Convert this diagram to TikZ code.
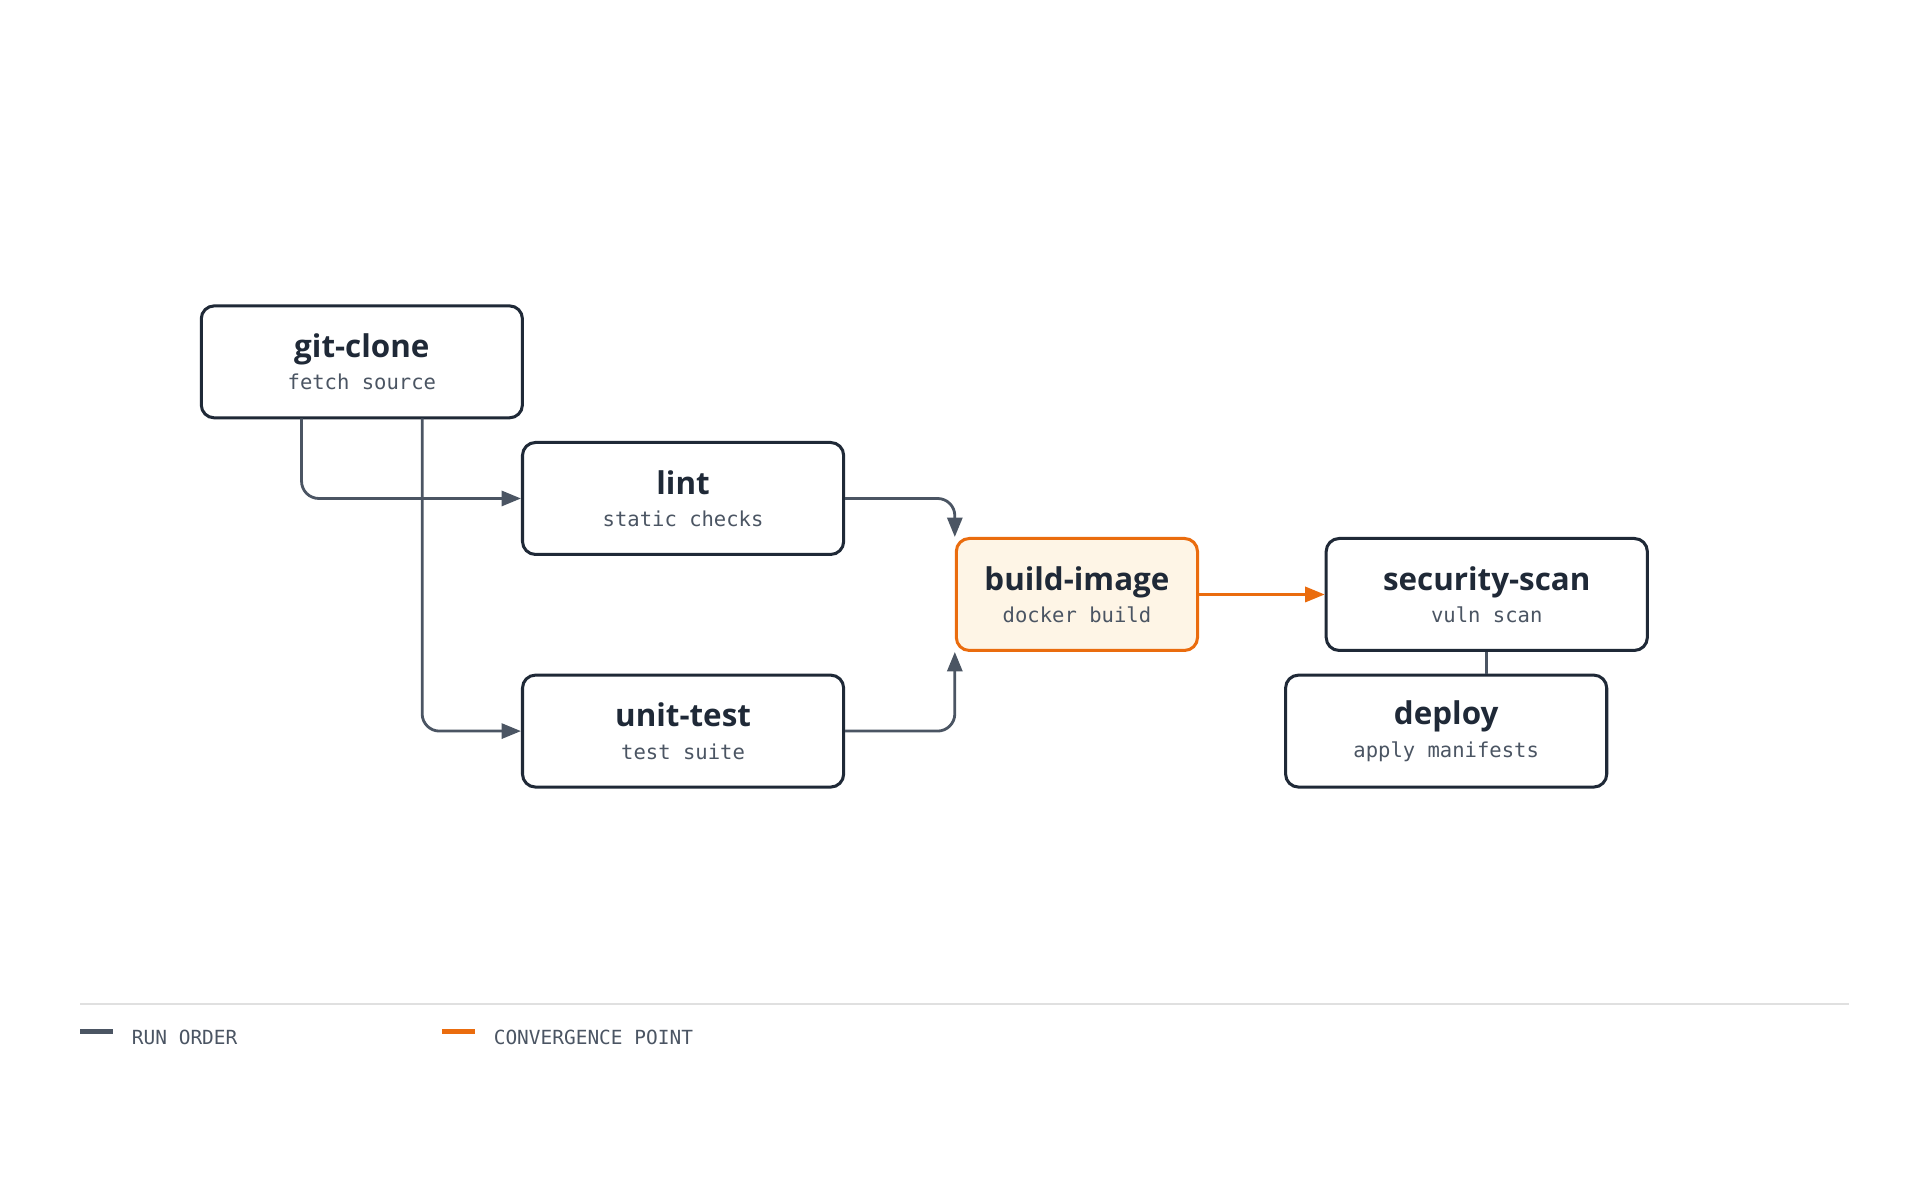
\documentclass[tikz,border=0pt]{standalone}
\usepackage{fontspec}
\setmainfont{Open Sans}
\setmonofont{DejaVu Sans Mono}
\usetikzlibrary{arrows.meta,positioning}
\definecolor{ink}{HTML}{1F2937}
\definecolor{wire}{HTML}{4B5563}
\definecolor{accent}{HTML}{EA6C0E}
\definecolor{accentfill}{HTML}{FEF5E6}
\tikzset{
  task/.style={draw=ink, line width=1.4pt, rounded corners=6pt, fill=white,
    minimum width=5.22cm, minimum height=1.82cm, align=center, text=ink},
  hot/.style={task, draw=accent, fill=accentfill, minimum width=3.92cm},
  run/.style={draw=wire, line width=1.3pt, rounded corners=8pt, -{Triangle[length=9pt,width=7pt]}},
  conv/.style={run, draw=accent, -{Triangle[length=9pt,width=7pt,fill=accent]}},
}
\newcommand{\job}[2]{{\fontsize{14.5}{18}\selectfont\bfseries #1}\\[3pt]{\fontsize{9.5}{12}\selectfont\ttfamily\color{wire}#2}}
\begin{document}
\begin{tikzpicture}[x=0.02cm,y=-0.02cm]
  \useasboundingbox (0,0) rectangle (1560,975);
  % jobs
  \node[task] (clone) at (294,294) {\job{git-clone}{fetch source}};
  \node[task] (lint) at (555,405) {\job{lint}{static checks}};
  \node[task] (test) at (555,594) {\job{unit-test}{test suite}};
  \node[hot] (build) at (875,483) {\job{build-image}{docker build}};
  \node[task] (scan) at (1208,483) {\job{security-scan}{vuln scan}};
  \node[task] (deploy) at (1175,594) {\job{deploy}{apply manifests}};
  % run order
  \coordinate (c1) at (245,340);
  \coordinate (c2) at (343,340);
  \draw[run] (c1) |- (lint.west);
  \draw[run] (c2) |- (test.west);
  \draw[run] (lint.east) -| (build.north west);
  \draw[run] (test.east) -| (build.south west);
  \draw[conv] (build.east) -- (scan.west);
  \draw[draw=wire, line width=1.3pt] (scan.south) -- (deploy.north -| scan.south);
  % legend
  \draw[black!12, line width=0.8pt] (65,816) -- (1502,816);
  \coordinate (k1) at (65,838);
  \coordinate (k2) at (359,838);
  \draw[wire, line width=2.5pt] (k1) -- ++(27,0);
  \node[anchor=west, font=\ttfamily\fontsize{9}{11}\selectfont, text=wire] (l1) at (101,843) {RUN ORDER};
  \draw[accent, line width=2.5pt] (k2) -- ++(27,0);
  \node[anchor=west, font=\ttfamily\fontsize{9}{11}\selectfont, text=wire] (l2) at (395,843) {CONVERGENCE POINT};
\end{tikzpicture}
\end{document}
